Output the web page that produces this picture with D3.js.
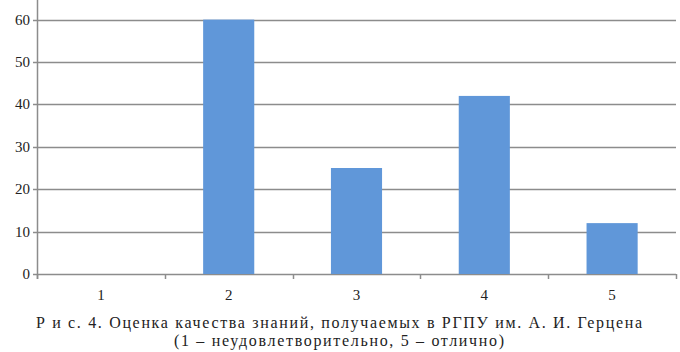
<html>
<script src="https://d3js.org/d3.v7.min.js"></script>
<style>
  body { margin: 0; background: #fff; }
</style>
<body>
<svg class="chart" width="680" height="352"></svg>
<script>
  const categories = ['1', '2', '3', '4', '5'];
  const values = [0, 60, 25, 42, 12];
  const yTicks = [0, 10, 20, 30, 40, 50, 60];
  const captionLines = [
    'Р и с. 4. Оценка качества знаний, получаемых в РГПУ им. А. И. Герцена',
    '(1 – неудовлетворительно, 5 – отлично)'
  ];
  const captionWidths = [606, 330];

  const font = "'Liberation Serif', 'DejaVu Serif', 'Times New Roman', serif";
  const svg = d3.select('svg').style('font-family', font);
  const plotLeft = 37, plotRight = 676, plotTop = 0, plotBottom = 274;

  var x = d3.scaleBand()
    .domain(categories)
    .range([plotLeft, plotRight]);
  var y = d3.scaleLinear()
    .domain([0, 10])
    .range([plotBottom, plotBottom - 42.4]);

  // gridlines
  svg.append('g')
    .selectAll('line')
    .data(yTicks)
    .enter()
    .append('line')
      .attr('x1', plotLeft - 4)
      .attr('x2', plotRight)
      .attr('y1', d => Math.round(y(d)) + 0.5)
      .attr('y2', d => Math.round(y(d)) + 0.5)
      .attr('stroke', '#8c8c8c')
      .attr('stroke-width', 1.5);

  // bars
  const bw = x.bandwidth() * 0.4;
  svg.append('g')
    .selectAll('rect')
    .data(values)
    .enter()
    .append('rect')
      .attr('x', (d, i) => x(categories[i]) + (x.bandwidth() - bw) / 2)
      .attr('y', d => y(d))
      .attr('width', bw)
      .attr('height', d => plotBottom - y(d))
      .attr('fill', '#6097d9');

  // y axis line
  svg.append('line')
    .attr('x1', plotLeft + 0.5).attr('x2', plotLeft + 0.5)
    .attr('y1', plotTop).attr('y2', plotBottom + 5)
    .attr('stroke', '#8c8c8c').attr('stroke-width', 1.5);

  // x axis ticks at band edges
  const edges = categories.map(c => x(c)).concat([plotRight]);
  svg.append('g')
    .selectAll('line')
    .data(edges)
    .enter()
    .append('line')
      .attr('x1', d => Math.round(d) + 0.5)
      .attr('x2', d => Math.round(d) + 0.5)
      .attr('y1', plotBottom)
      .attr('y2', plotBottom + 5)
      .attr('stroke', '#8c8c8c')
      .attr('stroke-width', 1.5);

  // y labels
  svg.append('g')
    .selectAll('text')
    .data(yTicks)
    .enter()
    .append('text')
      .attr('x', 30)
      .attr('y', d => y(d) + 5)
      .attr('text-anchor', 'end')
      .attr('font-size', 15)
      .attr('fill', '#222')
      .text(d => d);

  // x labels
  svg.append('g')
    .selectAll('text')
    .data(categories)
    .enter()
    .append('text')
      .attr('x', d => x(d) + x.bandwidth() / 2)
      .attr('y', 300)
      .attr('text-anchor', 'middle')
      .attr('font-size', 15)
      .attr('fill', '#222')
      .text(d => d);

  // caption
  svg.append('g')
    .selectAll('text')
    .data(captionLines)
    .enter()
    .append('text')
      .attr('x', 339)
      .attr('y', (d, i) => 328 + i * 18)
      .attr('text-anchor', 'middle')
      .attr('font-size', 16)
      .attr('textLength', (d, i) => captionWidths[i])
      .attr('lengthAdjust', 'spacing')
      .attr('fill', '#222')
      .text(d => d);
</script>
</body>
</html>
